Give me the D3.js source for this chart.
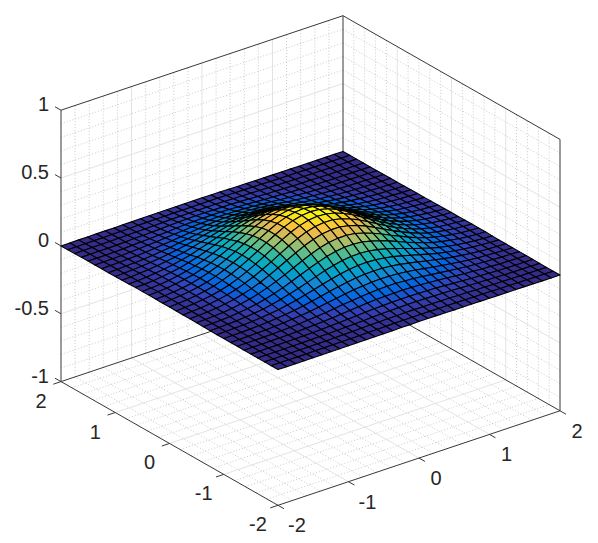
<!DOCTYPE html>
<html>
<head>
<meta charset="utf-8">
<script src="https://cdn.jsdelivr.net/npm/d3@7"></script>
<style>
    html, body { margin: 0; padding: 0; background: #fff; }
    text { font-family: "Liberation Sans", sans-serif; font-size: 20px; fill: #262626; }
</style>
</head>
<body>
<div id="chart"></div>
<script>
const axisTicks = [-2, -1, 0, 1, 2];
const zTicks = [-1, -0.5, 0, 0.5, 1];
const zTickLabels = ["-1", "-0.5", "0", "0.5", "1"];
const xyMinorTicks = [-1.8, -1.6, -1.4, -1.2, -0.8, -0.6, -0.4, -0.2, 0.2, 0.4, 0.6, 0.8, 1.2, 1.4, 1.6, 1.8];
const zMinorTicks = [-0.9, -0.8, -0.7, -0.6, -0.4, -0.3, -0.2, -0.1, 0.1, 0.2, 0.3, 0.4, 0.6, 0.7, 0.8, 0.9];
const meshValues = [-2, -1.875, -1.75, -1.625, -1.5, -1.375, -1.25, -1.125, -1, -0.875, -0.75, -0.625, -0.5, -0.375, -0.25, -0.125, 0,
    0.125, 0.25, 0.375, 0.5, 0.625, 0.75, 0.875, 1, 1.125, 1.25, 1.375, 1.5, 1.625, 1.75, 1.875, 2];
// surface height for y = 0 up to y = 2, each row runs x = -2 to 2
// the hump reads the same turned by 180 degrees so the y < 0 half is not listed
const zHalf = [
    [.006,.009,.015,.023,.034,.050,.071,.096,.127,.162,.200,.240,.277,.311,.337,.354,.360,.354,.337,.311,.277,.240,.200,.162,.127,.096,.071,.050,.034,.023,.015,.009,.006],
    [.005,.010,.016,.024,.036,.051,.072,.099,.129,.164,.202,.241,.278,.310,.335,.349,.354,.347,.329,.302,.268,.231,.192,.154,.121,.091,.066,.047,.032,.022,.014,.008,.005],
    [.006,.010,.016,.023,.035,.052,.072,.097,.127,.161,.197,.234,.269,.298,.321,.335,.337,.329,.311,.284,.251,.215,.178,.143,.111,.084,.061,.043,.029,.019,.012,.008,.004],
    [.006,.010,.015,.024,.035,.049,.069,.093,.122,.153,.186,.220,.252,.279,.298,.310,.311,.302,.284,.259,.228,.194,.161,.128,.099,.074,.054,.037,.026,.017,.011,.007,.004],
    [.005,.009,.014,.022,.033,.047,.064,.086,.112,.141,.170,.200,.228,.251,.269,.278,.277,.268,.251,.227,.199,.169,.139,.111,.086,.064,.046,.032,.022,.014,.009,.005,.003],
    [.006,.008,.013,.020,.030,.042,.058,.077,.100,.125,.152,.178,.201,.220,.235,.241,.240,.231,.216,.194,.170,.144,.118,.093,.072,.053,.038,.026,.018,.011,.007,.004,.003],
    [.004,.007,.011,.018,.026,.037,.050,.066,.087,.107,.129,.151,.170,.186,.197,.202,.200,.192,.178,.161,.139,.117,.095,.076,.058,.042,.030,.021,.014,.009,.006,.003,.002],
    [.003,.006,.011,.015,.023,.032,.043,.056,.072,.090,.107,.125,.141,.153,.161,.164,.162,.154,.143,.128,.111,.093,.076,.059,.045,.033,.024,.017,.011,.007,.005,.003,.001],
    [.003,.005,.008,.012,.018,.026,.035,.046,.059,.072,.087,.100,.112,.122,.127,.129,.127,.121,.111,.099,.086,.072,.058,.045,.034,.025,.018,.012,.008,.005,.003,.002,.001],
    [.002,.004,.007,.010,.014,.020,.028,.036,.046,.056,.066,.077,.086,.093,.097,.098,.096,.091,.084,.074,.064,.053,.042,.033,.025,.019,.013,.009,.006,.004,.002,.001,.001],
    [.002,.004,.005,.009,.012,.016,.021,.028,.035,.043,.050,.058,.065,.069,.073,.073,.071,.067,.062,.054,.047,.038,.030,.024,.018,.013,.009,.006,.004,.003,.002,.001,.001],
    [.002,.002,.004,.005,.009,.012,.016,.020,.026,.032,.037,.042,.047,.049,.052,.051,.050,.047,.043,.037,.032,.026,.021,.017,.012,.009,.006,.004,.003,.002,.001,.001,0],
    [.002,.002,.002,.004,.005,.009,.012,.014,.018,.021,.026,.030,.032,.034,.035,.035,.034,.031,.029,.025,.021,.018,.014,.011,.008,.006,.004,.003,.002,.001,.001,0,0],
    [.001,.002,.002,.002,.004,.005,.009,.010,.012,.015,.018,.020,.022,.024,.025,.024,.023,.022,.020,.017,.014,.011,.009,.007,.005,.004,.003,.002,.001,.001,0,0,0],
    [0,.001,.001,.002,.003,.004,.005,.007,.008,.010,.011,.013,.014,.015,.015,.015,.015,.014,.013,.011,.010,.008,.006,.005,.003,.002,.002,.001,.001,0,0,0,0],
    [0,.001,.001,.002,.002,.003,.004,.005,.006,.006,.007,.008,.009,.009,.009,.009,.009,.009,.008,.007,.006,.005,.004,.003,.002,.002,.001,.001,0,0,0,0,0],
    [0,0,.001,.001,.002,.002,.002,.003,.003,.004,.005,.005,.005,.006,.006,.006,.006,.005,.005,.004,.003,.003,.002,.002,.001,.001,.001,0,0,0,0,0,0]
];
const parulaColors = ["#352a87", "#3243ba", "#0363e1", "#0d75dc", "#1485d4", "#0998d1", "#06a7c6", "#15b1b4", "#38b99e", "#65be86", "#92bf73", "#b7bd64", "#d9ba56", "#f8bb44", "#fcce2e", "#f5e41d", "#f9fb0e"];

const width = 598, height = 543;
const originX = 310.5, originY = 260.5;

// the view is an oblique projection, each data axis adds its own screen offset
const xToPx = d3.scaleLinear().domain([-2, 2]).range([-141, 141]);
const yToPx = d3.scaleLinear().domain([-2, 2]).range([108.5, -108.5]);
const xToPy = d3.scaleLinear().domain([-2, 2]).range([47.25, -47.25]);
const yToPy = d3.scaleLinear().domain([-2, 2]).range([61.85, -61.85]);
const zToPy = d3.scaleLinear().domain([-1, 1]).range([135.7, -135.7]);

function project(x, y, z) {
    return [originX + xToPx(x) + yToPx(y), originY + xToPy(x) + yToPy(y) + zToPy(z)];
}

const zMax = d3.max(zHalf, row => d3.max(row));
const color = d3.scaleLinear()
    .domain(parulaColors.map((c, i) => i / (parulaColors.length - 1) * zMax))
    .range(parulaColors);

const svg = d3.select("#chart")
    .append("svg")
    .attr("width", width)
    .attr("height", height);

const line3d = d3.line();

function addLine(parent, a, b, stroke, strokeWidth, dash) {
    parent.append("path")
        .attr("d", line3d([project(...a), project(...b)]))
        .attr("fill", "none")
        .attr("stroke", stroke)
        .attr("stroke-width", strokeWidth)
        .attr("stroke-dasharray", dash || null);
}

// Add grids on the floor and the two back walls
const grid = svg.append("g");
function addGridLines(parent, ticks, stroke, strokeWidth, dash) {
    ticks.forEach(t => {
        addLine(parent, [t, -2, -1], [t, 2, -1], stroke, strokeWidth, dash);
        addLine(parent, [-2, t, -1], [2, t, -1], stroke, strokeWidth, dash);
        addLine(parent, [t, 2, -1], [t, 2, 1], stroke, strokeWidth, dash);
        addLine(parent, [2, t, -1], [2, t, 1], stroke, strokeWidth, dash);
    });
}
addGridLines(grid, xyMinorTicks, "#b5b5b5", 0.7, "1,2");
addGridLines(grid, axisTicks.slice(1, 4), "#e3e3e3", 1);
zMinorTicks.forEach(z => {
    addLine(grid, [-2, 2, z], [2, 2, z], "#b5b5b5", 0.7, "1,2");
    addLine(grid, [2, 2, z], [2, -2, z], "#b5b5b5", 0.7, "1,2");
});
zTicks.slice(1, 4).forEach(z => {
    addLine(grid, [-2, 2, z], [2, 2, z], "#e3e3e3", 1);
    addLine(grid, [2, 2, z], [2, -2, z], "#e3e3e3", 1);
});

// Add box edges
const box = svg.append("g");
const boxColor = "#383838";
addLine(box, [-2, 2, -1], [-2, 2, 1], boxColor, 1);
addLine(box, [2, 2, -1], [2, 2, 1], boxColor, 1);
addLine(box, [2, -2, -1], [2, -2, 1], boxColor, 1);
addLine(box, [-2, 2, 1], [2, 2, 1], boxColor, 1);
addLine(box, [2, 2, 1], [2, -2, 1], boxColor, 1);
addLine(box, [-2, 2, -1], [2, 2, -1], boxColor, 1);
addLine(box, [2, 2, -1], [2, -2, -1], boxColor, 1);
addLine(box, [-2, 2, -1], [-2, -2, -1], boxColor, 1);
addLine(box, [-2, -2, -1], [2, -2, -1], boxColor, 1);

// Add ticks and labels
const ticksGroup = svg.append("g");
axisTicks.forEach(t => {
    addLine(ticksGroup, [t, -2, -1], [t, -2.11, -1], boxColor, 1);
    const xPos = project(t, -2, -1);
    ticksGroup.append("text")
        .attr("x", xPos[0] + (t < 0 ? 19 : 17))
        .attr("y", xPos[1] + 27)
        .attr("text-anchor", "middle")
        .text(t);

    addLine(ticksGroup, [-2, t, -1], [-2.11, t, -1], boxColor, 1);
    const yPos = project(-2, t, -1);
    ticksGroup.append("text")
        .attr("x", yPos[0] - 20)
        .attr("y", yPos[1] + 26)
        .attr("text-anchor", "middle")
        .text(t);
});
zTicks.forEach((z, i) => {
    addLine(ticksGroup, [-2, 2, z], [-2, 2.11, z], boxColor, 1);
    const zPos = project(-2, 2, z);
    ticksGroup.append("text")
        .attr("x", zPos[0] - 12)
        .attr("y", zPos[1] + 1)
        .attr("text-anchor", "end")
        .text(zTickLabels[i]);
});

// y index 16 is y = 0, the lower half comes from the same rows read backwards
const zAt = (ix, iy) => iy >= 16 ? zHalf[iy - 16][ix] : zHalf[16 - iy][32 - ix];

// Add surface cells, far corner first so the near ones paint over them
const surface = svg.append("g");
for (let j = meshValues.length - 2; j >= 0; j--) {
    for (let i = meshValues.length - 2; i >= 0; i--) {
        const corners = [[i, j], [i + 1, j], [i + 1, j + 1], [i, j + 1]]
            .map(c => project(meshValues[c[0]], meshValues[c[1]], zAt(c[0], c[1])));
        surface.append("path")
            .attr("d", d3.line()(corners) + "Z")
            .attr("fill", color(zAt(i, j)))
            .attr("stroke", "#000")
            .attr("stroke-width", 1.1)
            .attr("stroke-linejoin", "round");
    }
}
</script>
</body>
</html>
